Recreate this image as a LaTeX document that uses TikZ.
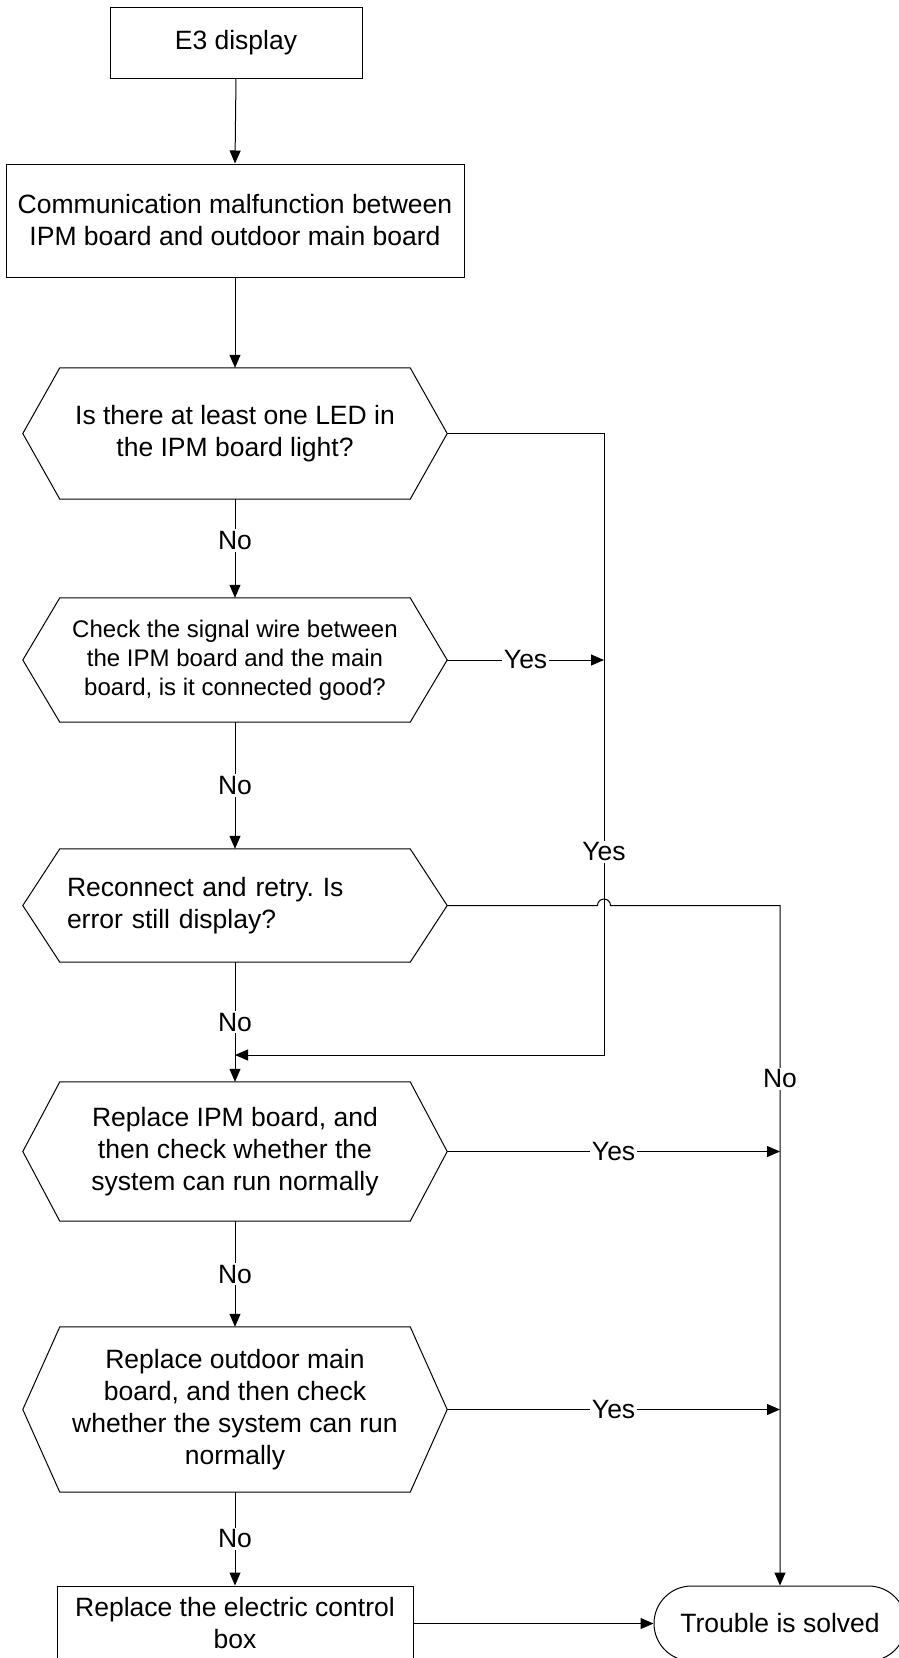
\documentclass[tikz,border=0pt]{standalone}
\usepackage{fontspec}
\setmainfont{Liberation Sans}
\usetikzlibrary{arrows.meta}
\frenchspacing
\begin{document}
\begin{tikzpicture}[x=1pt,y=-1pt,
  every node/.style={font=\fontsize{26.5}{32}\selectfont},
  box/.style={draw, line width=1pt, align=center, inner sep=0pt},
  hexbox/.style={align=center, inner sep=0pt, minimum width=424pt},
  conn/.style={line width=1pt},
  arr/.style={conn, -{Triangle[length=13pt,width=11pt]}},
  lbl/.style={fill=white, inner sep=2pt}]
\useasboundingbox (0,0) rectangle (899,1658);
\fill[white] (0,0) rectangle (899,1658);

\node[box, minimum width=252pt, minimum height=71pt] (e3) at (236,42.5) {E3 display};
\node[box, minimum width=458pt, minimum height=113pt] (cm) at (235,220.5) {Communication malfunction between\\IPM board and outdoor main board};
\node[hexbox, minimum height=131pt] (q1) at (235,433.5) {Is there at least one LED in\\the IPM board light?};
\node[hexbox, minimum height=124pt, font=\fontsize{24}{29}\selectfont] (q2) at (235,660) {Check the signal wire between\\the IPM board and the main\\board, is it connected good?};
\node[hexbox, minimum height=113pt, align=left, text width=336pt, inner xsep=44pt] (q3) at (235,905.5) {Reconnect and retry. Is\\error still display?};
\node[hexbox, minimum height=139pt] (q4) at (235,1151.5) {Replace IPM board, and\\then check whether the\\system can run normally};
\node[hexbox, minimum height=165pt] (q5) at (235,1409.5) {Replace outdoor main\\board, and then check\\whether the system can run\\normally};
\node[box, minimum width=356pt, minimum height=75pt] (fb) at (235,1623.5) {Replace the electric control\\box};
\node[box, rounded corners=37.5pt, minimum width=252pt, minimum height=75pt] (ts) at (780,1623.5) {Trouble is solved};

\foreach \n in {q1,q2,q3,q4,q5}
  \draw[conn] (\n.west) -- ([xshift=37pt]\n.north west) -- ([xshift=-37pt]\n.north east) -- (\n.east) -- ([xshift=-37pt]\n.south east) -- ([xshift=37pt]\n.south west) -- cycle;

\coordinate (c1) at (604,1055);
\coordinate (j1) at (235,1055);
\coordinate (h1) at (597.5,905.5);

\draw[arr] (e3.south) -- (cm.north);
\draw[arr] (cm.south) -- (q1.north);
\draw[arr] (q1.south) -- node[lbl,pos=0.42]{No} (q2.north);
\draw[arr] (q2.south) -- node[lbl]{No} (q3.north);
\draw[arr] (q3.south) -- node[lbl]{No} (q4.north);
\draw[arr] (q4.south) -- node[lbl]{No} (q5.north);
\draw[arr] (q5.south) -- node[lbl]{No} (fb.north);
\draw[arr] (q1.east) -- (q1.east -| c1) -- node[lbl,pos=0.673]{Yes} (c1) -- (j1);
\draw[arr] (q2.east) -- node[lbl]{Yes} (q2.east -| c1);
\draw[arr] (q3.east) -- (h1) arc[start angle=180,end angle=0,radius=6.5pt] -- (q3.east -| ts.north) -- node[lbl,pos=0.255]{No} (ts.north);
\draw[arr] (q4.east) -- node[lbl]{Yes} (q4.east -| ts.north);
\draw[arr] (q5.east) -- node[lbl]{Yes} (q5.east -| ts.north);
\draw[arr] (fb.east) -- (ts.west);
\end{tikzpicture}
\end{document}
